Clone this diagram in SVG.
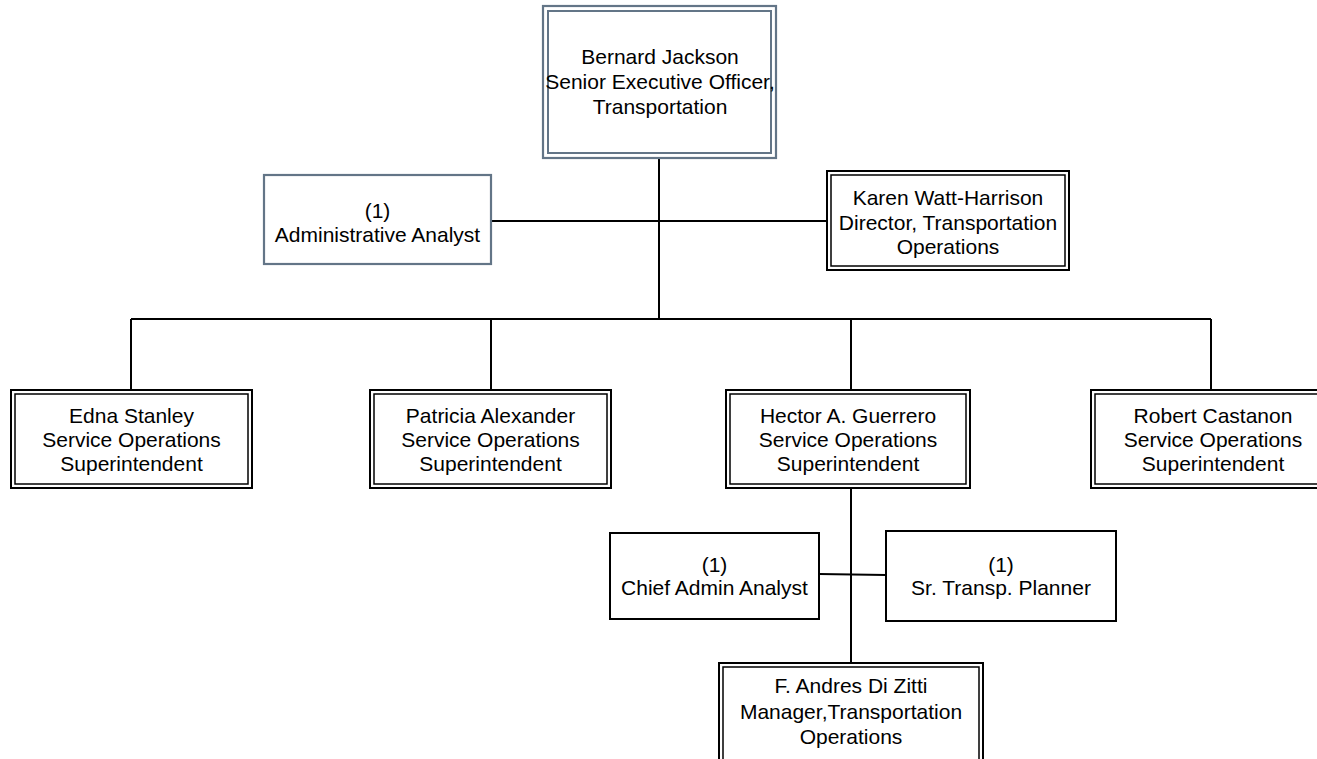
<svg xmlns="http://www.w3.org/2000/svg" width="1317" height="759" viewBox="0 0 1317 759">
<style>
text{font-family:"Liberation Sans",Arial,sans-serif;font-size:21px;fill:#000;text-anchor:middle}
.o{fill:#fff;stroke:#000;stroke-width:2}
.i{fill:none;stroke:#000;stroke-width:1.5}
.so{fill:#fff;stroke:#637587;stroke-width:2.2}
.si{fill:none;stroke:#637587;stroke-width:2}
.c{stroke:#000;stroke-width:2;fill:none}
</style>
<rect width="1317" height="759" fill="#fff"/>
<g id="connectors">
<line class="c" x1="659" y1="158" x2="659" y2="319"/>
<line class="c" x1="491" y1="221" x2="827" y2="221"/>
<line class="c" x1="131" y1="319" x2="1211" y2="319"/>
<line class="c" x1="131" y1="319" x2="131" y2="390"/>
<line class="c" x1="491" y1="319" x2="491" y2="390"/>
<line class="c" x1="851" y1="319" x2="851" y2="390"/>
<line class="c" x1="1211" y1="319" x2="1211" y2="390"/>
<line class="c" x1="851" y1="488" x2="851" y2="663"/>
<line class="c" x1="819" y1="574" x2="886" y2="575"/>
</g>
<g id="bernard">
<rect class="so" x="543" y="6" width="233" height="152"/>
<rect class="si" x="548" y="11" width="223" height="142"/>
<text x="660" y="64">Bernard Jackson</text>
<text x="660" y="89">Senior Executive Officer,</text>
<text x="660" y="114">Transportation</text>
</g>
<g id="admin-analyst">
<rect class="so" x="264" y="175" width="227" height="89"/>
<text x="377.5" y="218">(1)</text>
<text x="377.5" y="242">Administrative Analyst</text>
</g>
<g id="karen">
<rect class="o" x="827" y="171" width="242" height="99"/>
<rect class="i" x="831" y="175" width="234" height="91"/>
<text x="948" y="205">Karen Watt-Harrison</text>
<text x="948" y="230">Director, Transportation</text>
<text x="948" y="254">Operations</text>
</g>
<g id="edna">
<rect class="o" x="11" y="390" width="241" height="98"/>
<rect class="i" x="15" y="394" width="233" height="90"/>
<text x="131.5" y="423">Edna Stanley</text>
<text x="131.5" y="447">Service Operations</text>
<text x="131.5" y="471">Superintendent</text>
</g>
<g id="patricia">
<rect class="o" x="370" y="390" width="241" height="98"/>
<rect class="i" x="374" y="394" width="233" height="90"/>
<text x="490.5" y="423">Patricia Alexander</text>
<text x="490.5" y="447">Service Operations</text>
<text x="490.5" y="471">Superintendent</text>
</g>
<g id="hector">
<rect class="o" x="726" y="390" width="244" height="98"/>
<rect class="i" x="730" y="394" width="236" height="90"/>
<text x="848" y="423">Hector A. Guerrero</text>
<text x="848" y="447">Service Operations</text>
<text x="848" y="471">Superintendent</text>
</g>
<g id="robert">
<rect class="o" x="1091" y="390" width="244" height="98"/>
<rect class="i" x="1095" y="394" width="236" height="90"/>
<text x="1213" y="423">Robert Castanon</text>
<text x="1213" y="447">Service Operations</text>
<text x="1213" y="471">Superintendent</text>
</g>
<g id="chief-admin">
<rect class="o" x="610" y="533" width="209" height="86"/>
<text x="714.5" y="572">(1)</text>
<text x="714.5" y="595">Chief Admin Analyst</text>
</g>
<g id="planner">
<rect class="o" x="886" y="531" width="230" height="90"/>
<text x="1001" y="572">(1)</text>
<text x="1001" y="595">Sr. Transp. Planner</text>
</g>
<g id="andres">
<rect class="o" x="719" y="663" width="264" height="112"/>
<rect class="i" x="723" y="667" width="256" height="104"/>
<text x="851" y="693">F. Andres Di Zitti</text>
<text x="851" y="719">Manager,Transportation</text>
<text x="851" y="744">Operations</text>
</g>
</svg>
